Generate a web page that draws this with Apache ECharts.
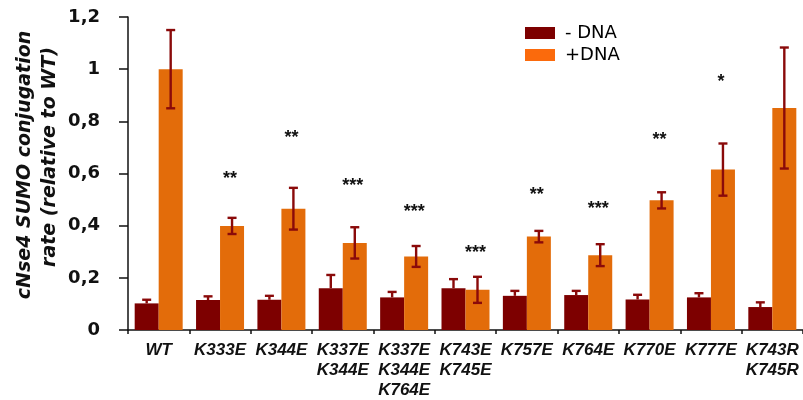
<!DOCTYPE html>
<html><head><meta charset="utf-8">
<script src="https://cdn.jsdelivr.net/npm/echarts@6/dist/echarts.min.js"></script>
<style>html,body{margin:0;padding:0;background:#fff}#c{width:803px;height:400px}</style>
</head><body><div id="c"></div>
<script>
const categories = ['WT', 'K333E', 'K344E', 'K337E\nK344E', 'K337E\nK344E\nK764E', 'K743E\nK745E', 'K757E', 'K764E', 'K770E', 'K777E', 'K743R\nK745R'];
const minusDNA = [0.102, 0.115, 0.116, 0.160, 0.125, 0.160, 0.131, 0.134, 0.117, 0.125, 0.088];
const minusDNAErr = [0.014, 0.014, 0.015, 0.051, 0.021, 0.035, 0.019, 0.016, 0.018, 0.016, 0.018];
const plusDNA = [1.0, 0.399, 0.465, 0.334, 0.282, 0.154, 0.358, 0.287, 0.497, 0.615, 0.851];
const plusDNAErr = [0.15, 0.031, 0.08, 0.06, 0.04, 0.05, 0.022, 0.042, 0.031, 0.1, 0.232];
const stars = ['', '**', '**', '***', '***', '***', '**', '***', '**', '*', ''];
const starLevel = [null, 0.596, 0.753, 0.567, 0.466, 0.310, 0.532, 0.478, 0.742, 0.966, null];
const yTickLabels = ['0', '0,2', '0,4', '0,6', '0,8', '1', '1,2'];
const seriesNames = ['- DNA', '+DNA'];

const DARK = '#7d0000', ORANGE = '#e36c0a', ERR = '#8a0a0a';
const BAR_W = 24;

function errSeries(vals, errs, side, showLower) {
  return {
    type: 'custom', z: 5, silent: true,
    data: vals.map((v, i) => [i, v, errs[i]]),
    renderItem: function (params, api) {
      const i = api.value(0), v = api.value(1), e = api.value(2);
      const hi = api.coord([i, v + e]), mid = api.coord([i, v]), lo = api.coord([i, v - e]);
      const x = hi[0] + side * BAR_W / 2;
      const cw = 4.5;
      const st = { stroke: ERR, lineWidth: 2.4 };
      const kids = [
        { type: 'line', shape: { x1: x, y1: hi[1], x2: x, y2: showLower ? lo[1] : mid[1] }, style: st },
        { type: 'line', shape: { x1: x - cw, y1: hi[1], x2: x + cw, y2: hi[1] }, style: st }
      ];
      if (showLower) kids.push({ type: 'line', shape: { x1: x - cw, y1: lo[1], x2: x + cw, y2: lo[1] }, style: st });
      return { type: 'group', children: kids };
    }
  };
}

const chart = echarts.init(document.getElementById('c'), null, { renderer: 'canvas' });
chart.setOption({
  animation: false,
  backgroundColor: '#fff',
  grid: { left: 128, top: 17, width: 679, height: 314 },
  legend: {
    orient: 'vertical', left: 525, top: 24, padding: 0, itemWidth: 30, itemHeight: 12, itemGap: 4,
    icon: 'rect',
    textStyle: { fontFamily: 'DejaVu Sans', fontSize: 18, color: '#000', lineHeight: 17, padding: [0, 0, 0, 5] },
    data: [
      { name: seriesNames[0], itemStyle: { color: DARK } },
      { name: seriesNames[1], itemStyle: { color: '#fb6a0c' } }
    ]
  },
  graphic: [
    { type: 'text', x: 25, y: 165, rotation: Math.PI / 2,
      style: { text: 'cNse4 SUMO conjugation', fontFamily: 'DejaVu Sans', fontWeight: 'bold', fontStyle: 'italic', fontSize: 19, fill: '#111', align: 'center', verticalAlign: 'middle' } },
    { type: 'text', x: 50, y: 157, rotation: Math.PI / 2,
      style: { text: 'rate (relative to WT)', fontFamily: 'DejaVu Sans', fontWeight: 'bold', fontStyle: 'italic', fontSize: 19, fill: '#111', align: 'center', verticalAlign: 'middle' } }
  ],
  xAxis: {
    type: 'category', data: categories,
    axisLine: { show: true, lineStyle: { color: '#111', width: 1.5 } },
    axisTick: { show: true, length: 4, lineStyle: { color: '#111', width: 1.5 } },
    axisLabel: { interval: 0, margin: 10, fontFamily: 'Liberation Sans', fontWeight: 'bold', fontStyle: 'italic', fontSize: 17, lineHeight: 20, color: '#111' }
  },
  yAxis: {
    type: 'value', min: 0, max: 1.2, interval: 0.2,
    axisLine: { show: true, lineStyle: { color: '#111', width: 1.5 } },
    axisTick: { show: true, length: 9, lineStyle: { color: '#111', width: 1.5 } },
    splitLine: { show: false },
    axisLabel: { margin: 28, fontFamily: 'DejaVu Sans', fontWeight: 'bold', fontSize: 18, color: '#111',
      formatter: v => yTickLabels[Math.round(v / 0.2)] }
  },
  series: [
    { name: seriesNames[0], type: 'bar', data: minusDNA, barWidth: BAR_W, barGap: '0%', itemStyle: { color: DARK } },
    { name: seriesNames[1], type: 'bar', data: plusDNA, barWidth: BAR_W, barGap: '0%', itemStyle: { color: ORANGE } },
    errSeries(minusDNA, minusDNAErr, -1, false),
    errSeries(plusDNA, plusDNAErr, 1, true),
    {
      type: 'custom', z: 6, silent: true,
      data: starLevel.map((v, i) => [i, v == null ? 0 : v]),
      renderItem: function (params, api) {
        const i = params.dataIndex;
        if (!stars[i]) return null;
        const p = api.coord([api.value(0), api.value(1)]);
        return { type: 'text', x: p[0] + BAR_W / 2 - 2, y: p[1] + 4,
          style: { text: stars[i], fontFamily: 'Liberation Sans', fontWeight: 'bold', fontSize: 18, fill: '#111', align: 'center', verticalAlign: 'middle' } };
      }
    }
  ]
});
</script>
</body></html>
